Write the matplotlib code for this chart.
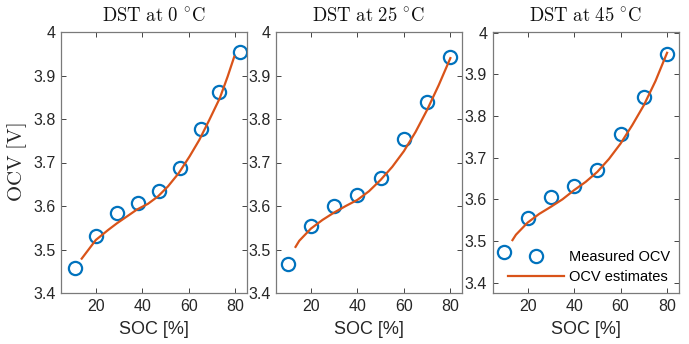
import numpy as np
import matplotlib
matplotlib.use("Agg")
import matplotlib.pyplot as plt
from matplotlib.ticker import FuncFormatter

plt.rcParams['mathtext.fontset'] = 'cm'
plt.rcParams['font.family'] = ['Liberation Sans', 'DejaVu Sans']

# measured OCV points
soc_0 = [11, 20, 29, 38, 47, 56, 65, 73, 82]
ocv_0 = [3.457, 3.530, 3.583, 3.607, 3.635, 3.688, 3.778, 3.862, 3.954]
soc_25 = [10, 20, 30, 40, 50, 60, 70, 80]
ocv_25 = [3.467, 3.555, 3.599, 3.626, 3.664, 3.754, 3.840, 3.942]
soc_45 = [10, 20, 30, 40, 50, 60, 70, 80]
ocv_45 = [3.473, 3.554, 3.605, 3.632, 3.670, 3.758, 3.846, 3.948]

# OCV estimates
est_soc_0 = [13.9, 20, 25.3, 29, 33.9, 37.7, 42.4, 46.7, 51, 55.7, 60.3, 64.5, 68.8, 73.3, 76.7, 79.5]
est_ocv_0 = [3.479, 3.522, 3.545, 3.560, 3.578, 3.592, 3.605, 3.622, 3.645, 3.676, 3.714, 3.752, 3.798, 3.848, 3.898, 3.943]
est_soc_25 = [13.4, 15, 20, 25, 30, 35, 40, 45, 50, 55, 60, 65, 70, 75, 80]
est_ocv_25 = [3.506, 3.520, 3.548, 3.568, 3.585, 3.600, 3.614, 3.634, 3.660, 3.690, 3.726, 3.770, 3.821, 3.878, 3.940]
est_soc_45 = [13.5, 15, 20, 25, 30, 35, 40, 45, 50, 55, 60, 65, 70, 75, 80]
est_ocv_45 = [3.502, 3.515, 3.544, 3.565, 3.582, 3.600, 3.622, 3.642, 3.666, 3.697, 3.734, 3.778, 3.826, 3.884, 3.952]

temps = [0, 25, 45]
meas = [(soc_0, ocv_0), (soc_25, ocv_25), (soc_45, ocv_45)]
ests = [(est_soc_0, est_ocv_0), (est_soc_25, est_ocv_25), (est_soc_45, est_ocv_45)]
ylims = [(3.4, 4.0), (3.4, 4.0), (3.375, 4.002)]

blue = '#0072BD'
orange = '#D95319'
axcol = '#262626'

fig = plt.figure(figsize=(6.89, 3.44), dpi=100)
lefts = [61, 276, 492.7]
W, H = 689, 344

for i in range(3):
    ax = fig.add_axes([lefts[i] / W, 1 - 293 / H, 186 / W, 261 / H])
    s, v = meas[i]
    es, ev = ests[i]
    ax.plot(s, v, 'o', ms=9.5, mfc='none', mec=blue, mew=1.6, label='Measured OCV')
    ax.plot(es, ev, '-', color=orange, lw=1.6, label='OCV estimates')
    ax.set_xlim(5, 85)
    ax.set_ylim(*ylims[i])
    ax.set_xticks([20, 40, 60, 80])
    ax.set_yticks([3.4, 3.5, 3.6, 3.7, 3.8, 3.9, 4.0])
    ax.yaxis.set_major_formatter(FuncFormatter(lambda y, p: '%g' % round(y, 2)))
    ax.tick_params(direction='in', top=True, right=True, length=3.5, width=0.6,
                   color=axcol, labelsize=11.5, labelcolor=axcol, pad=4)
    for sp in ax.spines.values():
        sp.set_color('#7a7a7a')
        sp.set_linewidth(0.9)
    ax.set_title(r'$\mathrm{DST\ at\ %d\ ^{\circ}C}$' % temps[i], fontsize=13.5, pad=7, color='#111111')
    ax.set_xlabel('SOC [%]', fontsize=13, color=axcol, labelpad=5)
    if i == 0:
        ax.set_ylabel(r'$\mathrm{OCV\ [V]}$', fontsize=15, color=axcol, labelpad=3)
    if i == 2:
        ax.legend(loc='lower right', frameon=False, fontsize=10.5, handlelength=3.9,
                  handletextpad=0.3, labelspacing=0.45, borderaxespad=0.2)

fig.savefig('out.png', dpi=100)
